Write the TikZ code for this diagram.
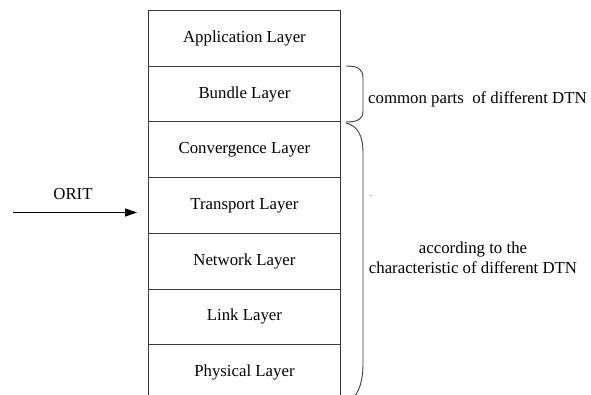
\documentclass[tikz,border=0pt]{standalone}
\usepackage{fontspec}
\setmainfont{Liberation Serif}
\newfontfamily\timesf{Liberation Serif}
\usetikzlibrary{arrows.meta}
\definecolor{linec}{HTML}{3A3A3A}
\tikzset{
  layer/.style={draw=linec, line width=0.9pt, minimum width=192pt, minimum height=55.7pt, inner sep=0pt, anchor=north west, font=\timesf\fontsize{16.8}{20}\selectfont},
  lbl/.style={inner sep=0pt, font=\timesf\fontsize{16.8}{20}\selectfont, align=center},
  brk/.style={draw=linec, line width=0.9pt},
  arr/.style={draw=black, line width=0.9pt, -{Triangle[length=12pt,width=8pt]}}
}
\begin{document}
\begin{tikzpicture}[x=1pt,y=-1pt]
\useasboundingbox (0,0) rectangle (591,395);
\clip (0,0) rectangle (591,395);
\node[layer] (app) at (148,10) {Application Layer};
\node[layer] (bun) at (148,65.7) {Bundle Layer};
\node[layer] (con) at (148,121.4) {Convergence Layer};
\node[layer] (tra) at (148,177.1) {Transport Layer};
\node[layer] (net) at (148,232.8) {Network Layer};
\node[layer] (lnk) at (148,288.5) {Link Layer};
\node[layer] (phy) at (148,344.2) {Physical Layer};
% small bracket
\draw[brk] (346,66) .. controls (358,66) and (363,69) .. (363,78) -- (363,111) .. controls (363,119) and (358,122) .. (346,122);
% big bracket
\draw[brk] (346,123) .. controls (358,126) and (363,136) .. (363,153) -- (363,363) .. controls (363,380) and (360,392) .. (350,402);
\node[lbl, anchor=west] (common) at (368,99) {common parts\ \ of different DTN};
\node[lbl] (accord) at (473,258) {according to the\\characteristic of different DTN};
\node[lbl, font=\timesf\fontsize{8}{8}\selectfont] (dot) at (371,196) {.};
\node[lbl] (orit) at (73,194) {ORIT};
\coordinate (as) at (13,212.5);
\coordinate (ae) at (137,212.5);
\draw[arr] (as) -- (ae);
\end{tikzpicture}
\end{document}
